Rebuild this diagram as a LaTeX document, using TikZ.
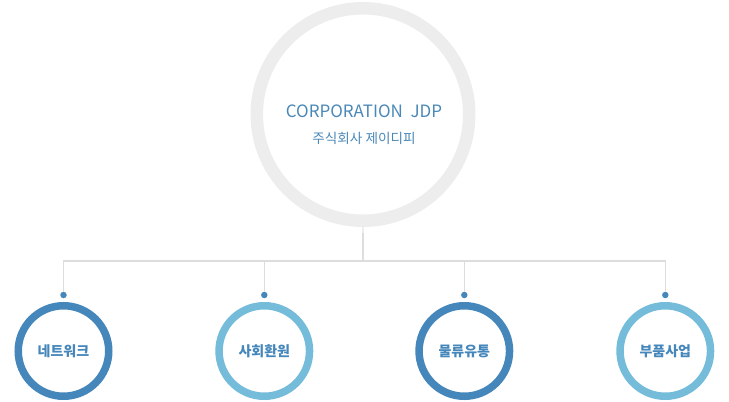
\documentclass[tikz,border=0pt]{standalone}
\usepackage{xcolor}
\usepackage{fontspec}
\usepackage{tikz}
\setmainfont{Noto Sans CJK KR}
\usetikzlibrary{positioning,calc}
\definecolor{ringgray}{HTML}{EDEDED}
\definecolor{linegray}{HTML}{DDDDDD}
\definecolor{darkblue}{HTML}{4587BA}
\definecolor{lightblue}{HTML}{74BCD9}
\definecolor{textblue}{HTML}{4A88B8}

\begin{document}
\begin{tikzpicture}[x=1pt, y=-1pt,
    corp/.style={circle, draw=ringgray, line width=12.5pt, minimum size=212.5pt, fill=white},
    branch/.style={circle, line width=7.5pt, minimum size=90.5pt, font=\fontsize{14}{16}\selectfont\bfseries, text=darkblue},
    dot/.style={circle, fill=darkblue, inner sep=0pt, minimum size=6.5pt},
    link/.style={draw=linegray, line width=1.2pt}]
\useasboundingbox (0,0) rectangle (729,402);
\node[corp] (corp) at (363,114.5) {};
\node[text=textblue, font=\fontsize{17}{19}\selectfont] (name) at (364,111) {CORPORATION~~JDP};
\node[text=textblue, font=\fontsize{13.6}{15}\selectfont] (kname) at (364,138) {주식회사 제이디피};
\coordinate (bus) at (363,261);
% branches
\node[dot] (d1) at (63.5,295) {};
\node[dot] (d2) at (264.3,295) {};
\node[dot] (d3) at (464.3,295) {};
\node[dot] (d4) at (665.3,295) {};
\node[branch, draw=darkblue] (net) at (63.5,351) {네트워크};
\node[branch, draw=lightblue] (soc) at (264.3,351) {사회환원};
\node[branch, draw=darkblue] (logi) at (464.3,351) {물류유통};
\node[branch, draw=lightblue] (parts) at (665.3,351) {부품사업};
% connectors
\draw[link, ringgray] (corp.south) -- ++(0,6.25);
\draw[link] (corp.south) ++(0,6.25) -- (bus);
\draw[link] (bus) -| (d1);
\draw[link] (bus) -| (d2);
\draw[link] (bus) -| (d3);
\draw[link] (bus) -| (d4);
\end{tikzpicture}
\end{document}
